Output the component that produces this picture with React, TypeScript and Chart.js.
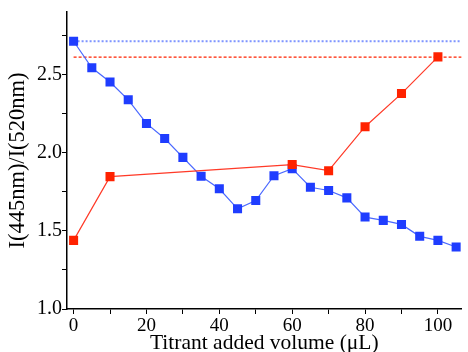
import React, { useEffect, useRef } from 'react';
import { Chart, registerables } from 'chart.js';

Chart.register(...registerables);

const volumesBlue = [0, 5, 10, 15, 20, 25, 30, 35, 40, 45, 50, 55, 60, 65, 70, 75, 80, 85, 90, 95, 100, 105];
const ratioBlue = [2.713, 2.543, 2.452, 2.338, 2.187, 2.091, 1.97, 1.849, 1.769, 1.641, 1.694, 1.853, 1.898, 1.779, 1.758, 1.711, 1.588, 1.567, 1.541, 1.465, 1.439, 1.397];
const volumesRed = [0, 10, 60, 70, 80, 90, 100];
const ratioRed = [1.439, 1.847, 1.924, 1.885, 2.166, 2.378, 2.613];
const refBlue = 2.713;
const refRed = 2.611;
const refLineX = [0, 106.5];

const xTickValues = [0, 10, 20, 30, 40, 50, 60, 70, 80, 90, 100];
const xLabelValues = [0, 20, 40, 60, 80, 100];
const yTickValues = [1.0, 1.25, 1.5, 1.75, 2.0, 2.25, 2.5, 2.75];
const yLabelValues = [1.0, 1.5, 2.0, 2.5];

const FONT = '"Liberation Serif", "Times New Roman", serif';
const BLUE = '#1f3dff';
const BLUE_LINE = '#4b69ff';
const RED = '#ff2200';
const RED_LINE = '#ff3a28';

export default function App() {
  const ref = useRef<HTMLCanvasElement | null>(null);

  useEffect(() => {
    if (!ref.current) return;
    const chart = new Chart(ref.current, {
      type: 'line',
      data: {
        datasets: [
          {
            data: volumesRed.map((x, i) => ({ x, y: ratioRed[i] })),
            borderColor: RED_LINE,
            backgroundColor: RED,
            borderWidth: 1.2,
            pointStyle: 'rect',
            pointRadius: 6.4,
            pointBorderWidth: 0,
            pointBackgroundColor: RED,
          },
          {
            data: volumesBlue.map((x, i) => ({ x, y: ratioBlue[i] })),
            borderColor: BLUE_LINE,
            backgroundColor: BLUE,
            borderWidth: 1.2,
            pointStyle: 'rect',
            pointRadius: 6.4,
            pointBorderWidth: 0,
            pointBackgroundColor: BLUE,
          },
          {
            data: refLineX.map((x) => ({ x, y: refBlue })),
            borderColor: '#7f95ff',
            borderWidth: 2,
            borderDash: [2, 2],
            pointRadius: 0,
          },
          {
            data: refLineX.map((x) => ({ x, y: refRed })),
            borderColor: RED,
            borderWidth: 1.3,
            borderDash: [3, 2],
            pointRadius: 0,
          },
        ],
      },
      options: {
        animation: false,
        responsive: false,
        devicePixelRatio: 1,
        layout: { padding: { top: 10.7, left: 0, right: 0, bottom: 0 } },
        plugins: { legend: { display: false }, tooltip: { enabled: false } },
        scales: {
          x: {
            type: 'linear',
            min: -1.81,
            max: 106.5,
            afterFit: (s: any) => { s.height = 43; },
            afterBuildTicks: (s: any) => { s.ticks = xTickValues.map((v) => ({ value: v })); },
            ticks: {
              autoSkip: false,
              maxRotation: 0,
              padding: 1,
              color: '#000',
              font: { family: FONT, size: 19 },
              callback: (v: any) => (xLabelValues.includes(Number(v)) ? String(v) : ''),
            },
            grid: { drawOnChartArea: false, drawTicks: true, tickLength: 5, color: '#000', tickWidth: 1 },
            border: { display: true, color: '#000', width: 1.5 },
            title: {
              display: true,
              text: 'Titrant added volume (\u03bcL)',
              color: '#000',
              font: { family: FONT, size: 21.5, lineHeight: 0.85 },
              padding: { top: 0, bottom: 0 },
            },
          },
          y: {
            type: 'linear',
            min: 1.0,
            max: 2.9,
            afterFit: (s: any) => { s.width = 67; },
            afterBuildTicks: (s: any) => { s.ticks = yTickValues.map((v) => ({ value: v })); },
            ticks: {
              autoSkip: false,
              padding: 0,
              color: '#000',
              font: { family: FONT, size: 20 },
              callback: (v: any) => (yLabelValues.some((l) => Math.abs(l - Number(v)) < 1e-6) ? Number(v).toFixed(1) : ''),
            },
            grid: { drawOnChartArea: false, drawTicks: true, tickLength: 5, color: '#000', tickWidth: 1 },
            border: { display: true, color: '#000', width: 1.5 },
            title: {
              display: true,
              text: 'I(445nm)/I(520nm)',
              color: '#000',
              font: { family: FONT, size: 22.5 },
              padding: { top: 5, bottom: 0 },
            },
          },
        },
      },
    });
    return () => chart.destroy();
  }, []);

  return (
    <div style={{ position: 'fixed', left: 0, top: 0, width: 468, height: 352, background: '#fff' }}>
      <canvas ref={ref} width={468} height={352} style={{ width: 468, height: 352, display: 'block' }} />
    </div>
  );
}
